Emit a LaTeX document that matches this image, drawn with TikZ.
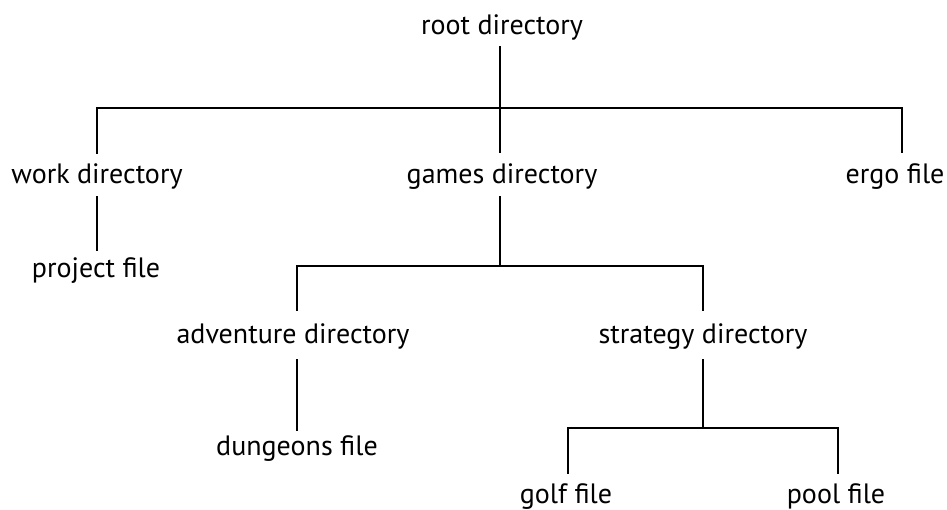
\documentclass[tikz,border=0pt]{standalone}
\usepackage{fontspec}
\setmainfont{PT Sans}
\begin{document}
\begin{tikzpicture}[x=1pt,y=-1pt,
  lbl/.style={anchor=base,inner sep=0pt,font=\fontsize{28}{32}\selectfont},
  conn/.style={line width=2pt,line cap=rect}]
\useasboundingbox (0,0) rectangle (947,509);
% labels
\node[lbl] (root) at (502,34) {root directory};
\node[lbl] (work) at (97,183) {work directory};
\node[lbl] (games) at (502,183) {games directory};
\node[lbl] (ergo) at (895,183) {ergo file};
\node[lbl] (project) at (96,277) {project file};
\node[lbl] (adv) at (293,343) {adventure directory};
\node[lbl] (strat) at (703,343) {strategy directory};
\node[lbl] (dung) at (297,455) {dungeons file};
\node[lbl] (golf) at (566,503) {golf file};
\node[lbl] (pool) at (836,503) {pool file};
% line ends
\coordinate (r0) at (500,47);
\coordinate (r1) at (500,108);
\coordinate (wL) at (97,108);
\coordinate (eR) at (902,108);
\coordinate (w1) at (97,153);
\coordinate (g1) at (500,152);
\coordinate (e1) at (902,152);
\coordinate (w2) at (97,197);
\coordinate (p1) at (97,250);
\coordinate (g2) at (500,197);
\coordinate (g3) at (500,266);
\coordinate (aL) at (297,266);
\coordinate (sR) at (703,266);
\coordinate (a1) at (297,310);
\coordinate (s1) at (703,310);
\coordinate (a2) at (297,360);
\coordinate (d1) at (297,430);
\coordinate (s2) at (703,360);
\coordinate (s3) at (703,428);
\coordinate (gL) at (568,428);
\coordinate (pR) at (838,428);
\coordinate (gl1) at (568,473);
\coordinate (po1) at (838,473);
% connectors
\draw[conn] (r0) -- (r1);
\draw[conn] (w1) -- (wL) -- (eR) -- (e1);
\draw[conn] (r1) -- (g1);
\draw[conn] (w2) -- (p1);
\draw[conn] (g2) -- (g3);
\draw[conn] (a1) -- (aL) -- (sR) -- (s1);
\draw[conn] (a2) -- (d1);
\draw[conn] (s2) -- (s3);
\draw[conn] (gl1) -- (gL) -- (pR) -- (po1);
\end{tikzpicture}
\end{document}
